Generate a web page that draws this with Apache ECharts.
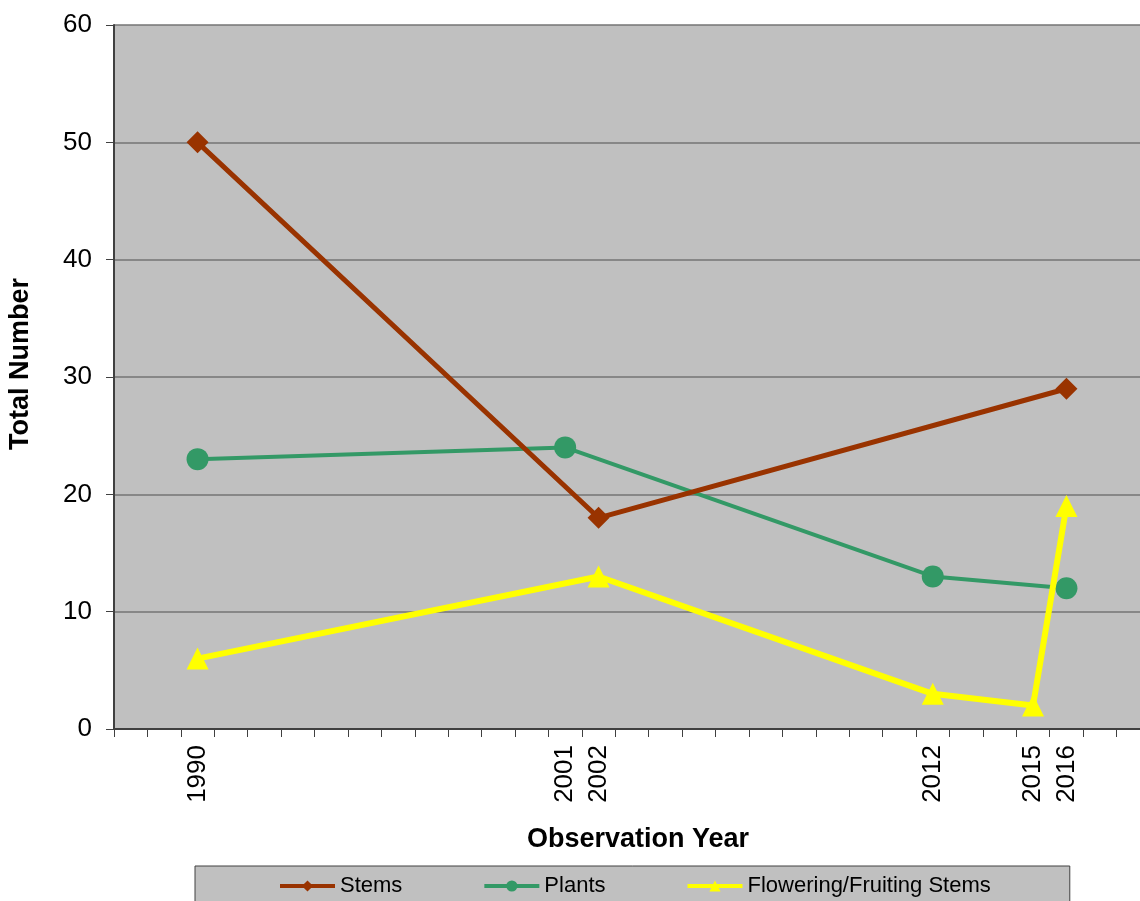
<!DOCTYPE html>
<html>
<head>
<meta charset="utf-8">
<title>Total Number by Observation Year</title>
<script src="https://cdn.jsdelivr.net/npm/echarts@6/dist/echarts.min.js"></script>
<style>
  html, body { margin: 0; padding: 0; background: #ffffff; overflow: hidden; }
  #chart { width: 1140px; height: 901px; }
</style>
</head>
<body>
<div id="chart"></div>
<script>
// Yearly slots on the horizontal axis (one category per year)
const categories = ['1988','1989','1990','1991','1992','1993','1994','1995','1996','1997',
  '1998','1999','2000','2001','2002','2003','2004','2005','2006','2007','2008','2009',
  '2010','2011','2012','2013','2014','2015','2016','2017','2018'];

// Years that carry a tick label
const labeledYears = ['1990','2001','2002','2012','2015','2016'];

// Survey observations: [year, count]
const stems = [['1990', 50], ['2002', 18], ['2016', 29]];
const plants = [['1990', 23], ['2001', 24], ['2012', 13], ['2016', 12]];
const flowering = [['1990', 6], ['2002', 13], ['2012', 3], ['2015', 2], ['2016', 19]];

// Y-axis ticks
const yTicks = { min: 0, max: 60, interval: 10 };

const FONT = "'Liberation Sans', Arial, sans-serif";

const chart = echarts.init(document.getElementById('chart'), null, { renderer: 'canvas' });

chart.setOption({
  animation: false,
  backgroundColor: '#ffffff',
  textStyle: { fontFamily: FONT },
  grid: {
    left: 114, top: 25, bottom: 172, right: -10,
    outerBoundsMode: 'none',
    containLabel: false,
    show: true, backgroundColor: '#c0c0c0', borderWidth: 0
  },
  legend: {
    left: 195, top: 866,
    padding: [9, 79, 20, 83],
    backgroundColor: '#c0c0c0',
    borderColor: '#404040', borderWidth: 1,
    itemWidth: 55, itemHeight: 14, itemGap: 80,
    lineStyle: { width: 4 },
    textStyle: { fontSize: 22, color: '#000000', fontFamily: FONT },
    data: ['Stems', 'Plants', 'Flowering/Fruiting Stems']
  },
  xAxis: {
    type: 'category',
    data: categories,
    boundaryGap: true,
    name: 'Observation Year',
    nameLocation: 'middle',
    nameGap: 97,
    nameTextStyle: { fontSize: 27, fontWeight: 'bold', color: '#000000', fontFamily: FONT,
                     padding: [0, 0, 0, 12] },
    axisLine: { lineStyle: { color: '#404040', width: 2 } },
    axisTick: { show: true, interval: 0, length: 8, alignWithLabel: false,
                lineStyle: { color: '#404040', width: 1 } },
    axisLabel: {
      interval: 0, rotate: 90, margin: 16,
      fontSize: 26, color: '#000000', fontFamily: FONT,
      formatter: v => labeledYears.includes(v) ? v : ''
    },
    splitLine: { show: false }
  },
  yAxis: {
    type: 'value',
    min: yTicks.min, max: yTicks.max, interval: yTicks.interval,
    name: 'Total Number',
    nameLocation: 'middle',
    nameGap: 80,
    nameTextStyle: { fontSize: 27, fontWeight: 'bold', color: '#000000', fontFamily: FONT,
                     padding: [0, 0, 0, 26] },
    axisLine: { show: true, lineStyle: { color: '#404040', width: 2 } },
    axisTick: { show: true, length: 8, lineStyle: { color: '#404040', width: 1 } },
    axisLabel: { fontSize: 26, color: '#000000', margin: 22, fontFamily: FONT },
    splitLine: { show: true, lineStyle: { color: '#757575', width: 1.5 } }
  },
  series: [
    {
      name: 'Stems', type: 'line', data: stems,
      symbol: 'diamond', symbolSize: 22,
      lineStyle: { color: '#993300', width: 5 },
      itemStyle: { color: '#993300' },
      z: 3
    },
    {
      name: 'Plants', type: 'line', data: plants,
      symbol: 'circle', symbolSize: 22,
      lineStyle: { color: '#339966', width: 4 },
      itemStyle: { color: '#339966' },
      z: 2
    },
    {
      name: 'Flowering/Fruiting Stems', type: 'line', data: flowering,
      symbol: 'triangle', symbolSize: 22,
      lineStyle: { color: '#ffff00', width: 6 },
      itemStyle: { color: '#ffff00' },
      z: 4
    }
  ]
});
</script>
</body>
</html>
